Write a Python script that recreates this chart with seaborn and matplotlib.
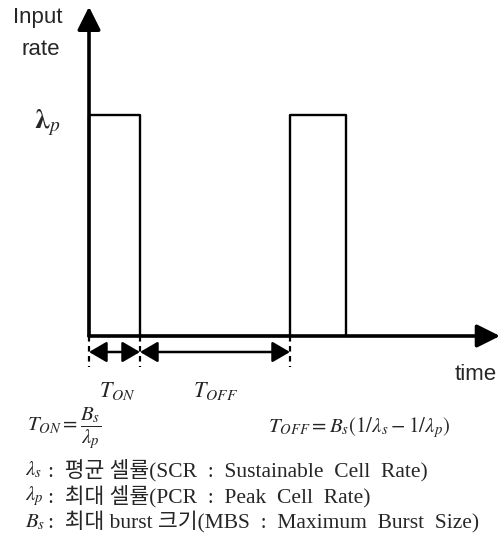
import matplotlib
matplotlib.use("Agg")
import matplotlib.pyplot as plt
import seaborn as sns

# --- datos de la señal ON/OFF (tiempo en unidades arbitrarias, tasa relativa a lambda_p) ---
signal_time = [0, 0, 51, 51, 201, 201, 257, 257]
signal_rate = [0, 1, 1, 0, 0, 1, 1, 0]
marker_time = [0, 51, 201]          # limites T_ON / T_OFF
axis_end_time = 411
axis_end_rate = 1.49

label_y = "Input"
label_y2 = "rate"
label_x = "time"
label_peak = r"$\boldsymbol{\lambda}_p$"
label_ton = r"$T_{ON}$"
label_toff = r"$T_{OFF}$"
formula_ton = r"$T_{ON}=\dfrac{B_s}{\lambda_p}$"
formula_toff = r"$T_{OFF}=B_s(1/\lambda_s-1/\lambda_p)$"
legend_symbols = [r"$\lambda_s$", r"$\lambda_p$", r"$B_s$"]
legend_texts = [
    ":  평균 셀률(SCR  :  Sustainable  Cell  Rate)",
    ":  최대 셀률(PCR  :  Peak  Cell  Rate)",
    ":  최대 burst 크기(MBS  :  Maximum  Burst  Size)",
]

sns.set_style("white")
plt.rcParams["font.family"] = ["Liberation Serif", "Noto Sans CJK KR", "DejaVu Sans"]
plt.rcParams["mathtext.fontset"] = "stix"

W, H = 504, 547
fig = plt.figure(figsize=(W / 100, H / 100), dpi=100)
ax = fig.add_axes([0, 0, 1, 1])
# pixel 89 -> t=0 ; baseline pixel 336 -> 0 ; pixel 115 -> 1
ax.set_xlim(-89, W - 89)
ax.set_ylim((336 - H) / 221, 336 / 221)
ax.axis("off")

def fx(px):
    return px / W

def fy(py):
    return 1 - py / H

# señal
sns.lineplot(x=signal_time, y=signal_rate, sort=False, estimator=None,
             color="black", lw=1.7, ax=ax)

# ejes con flecha
for tip in [(0, axis_end_rate), (axis_end_time, 0)]:
    ax.annotate("", xy=tip, xytext=(0, 0),
                arrowprops=dict(arrowstyle="-|>,head_length=0.7,head_width=0.35",
                                color="black", lw=2.6, mutation_scale=20,
                                shrinkA=0, shrinkB=0))

# lineas punteadas y flechas dobles
dash_low = -31 / 221
arrow_y = -16 / 221
for t in marker_time:
    ax.plot([t, t], [0, dash_low], color="black", lw=1.6, ls=(0, (2.5, 2)))
for a, b in zip(marker_time[:-1], marker_time[1:]):
    ax.annotate("", xy=(b, arrow_y), xytext=(a, arrow_y),
                arrowprops=dict(arrowstyle="<|-|>,head_length=0.6,head_width=0.35",
                                color="black", lw=1.8, mutation_scale=18,
                                shrinkA=0, shrinkB=0))

# textos
sans = ["Liberation Sans", "DejaVu Sans"]
fig.text(fx(38), fy(23), label_y, family=sans, fontsize=16, ha="center", va="baseline")
fig.text(fx(41), fy(55), label_y2, family=sans, fontsize=16, ha="center", va="baseline")
fig.text(fx(476), fy(380), label_x, family=sans, fontsize=16, ha="center", va="baseline")
fig.text(fx(47), fy(123), label_peak, fontsize=20, ha="center", va="center")
fig.text(fx(117), fy(391), label_ton, fontsize=16, ha="center", va="center")
fig.text(fx(216), fy(391), label_toff, fontsize=16, ha="center", va="center")
fig.text(fx(27), fy(429), formula_ton, fontsize=15, ha="left", va="center")
fig.text(fx(268), fy(428), formula_toff, fontsize=15, ha="left", va="center")
for i, (sym, txt) in enumerate(zip(legend_symbols, legend_texts)):
    y = fy(470 + 26 * i)
    fig.text(fx(25), y, sym, fontsize=15, ha="left", va="center")
    fig.text(fx(48), y, txt, fontsize=15.5, ha="left", va="center")

fig.savefig("out.png", dpi=100)
